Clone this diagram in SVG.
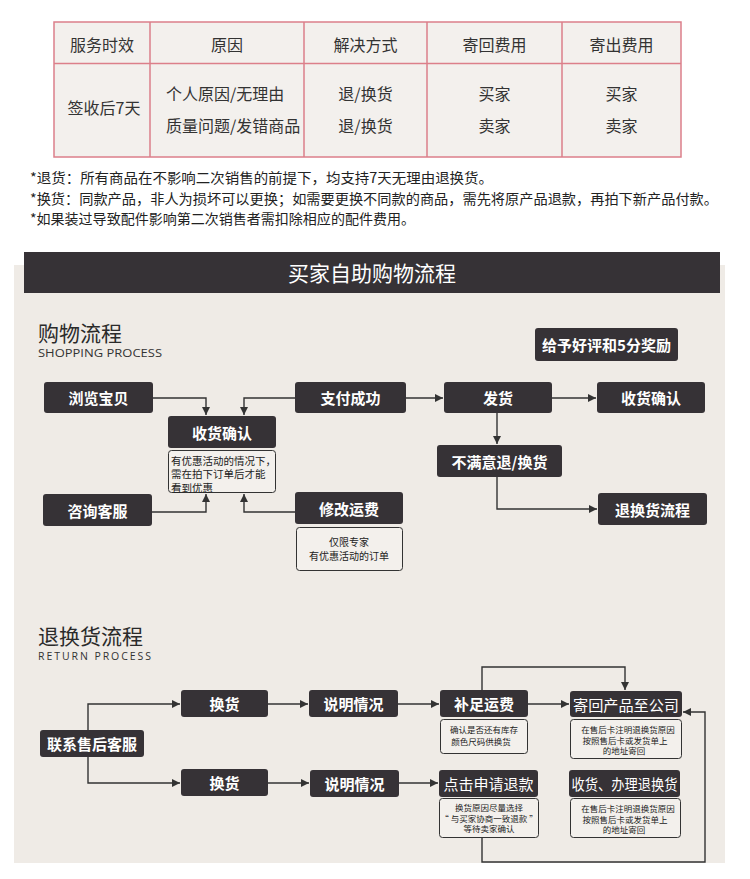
<svg xmlns="http://www.w3.org/2000/svg" width="750" height="879" viewBox="0 0 750 879">
<style>
text { font-family: "Noto Sans CJK SC", "Noto Sans", sans-serif; }
.tb { fill:#333; font-size:16px; text-anchor:middle; dominant-baseline:central; }
.tl { fill:#333; font-size:16px; dominant-baseline:central; }
.note { fill:#222; font-size:14px; dominant-baseline:central; }
.box { fill:#363236; }
.nt { fill:#fff; font-size:15px; font-weight:bold; text-anchor:middle; dominant-baseline:central; }
.nr { fill:#fff; font-size:15px; text-anchor:middle; dominant-baseline:central; }
.sub { fill:#f3f0ec; stroke:#333; stroke-width:1; }
.st { fill:#222; font-size:10.5px; dominant-baseline:central; }
.sm { fill:#222; font-size:10px; text-anchor:middle; dominant-baseline:central; }
.sc { fill:#222; font-size:8.5px; text-anchor:middle; dominant-baseline:central; }
.conn path { fill:none; stroke:#333; stroke-width:1.4; }
.h1 { fill:#2a2a2a; font-size:21px; dominant-baseline:central; }
.h2 { fill:#333; font-size:10.5px; font-family:"Open Sans","Noto Sans",sans-serif; dominant-baseline:central; }
</style>
<defs>
<marker id="arr" markerUnits="userSpaceOnUse" markerWidth="9" markerHeight="9" refX="8" refY="4" orient="auto">
<path d="M0,0 L8,4 L0,8 z" fill="#333"/>
</marker>
</defs>
<rect width="750" height="879" fill="#ffffff"/>

<g id="table">
<rect x="54" y="22" width="627" height="135" fill="#f3f0ed" stroke="#dc7f8a" stroke-width="1.5"/>
<path d="M54,63.5 H681 M150,22 V157 M304,22 V157 M427,22 V157 M562,22 V157" stroke="#dc7f8a" stroke-width="1.5" fill="none"/>
<text class="tb" x="102" y="44">服务时效</text>
<text class="tb" x="227" y="44">原因</text>
<text class="tb" x="365.5" y="44">解决方式</text>
<text class="tb" x="494.5" y="44">寄回费用</text>
<text class="tb" x="621.5" y="44">寄出费用</text>
<text class="tb" x="104" y="107">签收后7天</text>
<text class="tl" x="166" y="93">个人原因/无理由</text>
<text class="tl" x="166" y="125">质量问题/发错商品</text>
<text class="tb" x="365.5" y="93">退/换货</text>
<text class="tb" x="365.5" y="125">退/换货</text>
<text class="tb" x="494.5" y="93">买家</text>
<text class="tb" x="494.5" y="125">卖家</text>
<text class="tb" x="621.5" y="93">买家</text>
<text class="tb" x="621.5" y="125">卖家</text>
</g>

<g id="notes">
<text class="note" x="30" y="177" textLength="463" lengthAdjust="spacingAndGlyphs">*退货：所有商品在不影响二次销售的前提下，均支持7天无理由退换货。</text>
<text class="note" x="30" y="198" textLength="688" lengthAdjust="spacingAndGlyphs">*换货：同款产品，非人为损坏可以更换；如需要更换不同款的商品，需先将原产品退款，再拍下新产品付款。</text>
<text class="note" x="30" y="218" textLength="385" lengthAdjust="spacingAndGlyphs">*如果装过导致配件影响第二次销售者需扣除相应的配件费用。</text>
</g>

<rect x="14" y="265" width="711" height="598" fill="#efebe6"/>
<g id="banner">
<rect x="24" y="252" width="696" height="41" fill="#363236"/>
<text x="372" y="272" fill="#fff" font-size="21" text-anchor="middle" dominant-baseline="central">买家自助购物流程</text>
</g>

<g id="heading-shopping">
<text class="h1" x="38" y="332">购物流程</text>
<text class="h2" x="38" y="353" textLength="124" lengthAdjust="spacingAndGlyphs">SHOPPING PROCESS</text>
</g>
<g id="heading-return">
<text class="h1" x="38" y="635">退换货流程</text>
<text class="h2" x="38" y="656" textLength="113" lengthAdjust="spacing">RETURN PROCESS</text>
</g>

<g class="conn" id="connectors">
<path d="M153,398 H206 V415" marker-end="url(#arr)"/>
<path d="M295,398 H244 V415" marker-end="url(#arr)"/>
<path d="M152,512 H206 V494" marker-end="url(#arr)"/>
<path d="M295,512 H244 V494" marker-end="url(#arr)"/>
<path d="M406,398 H443" marker-end="url(#arr)"/>
<path d="M552,398 H596" marker-end="url(#arr)"/>
<path d="M497,413 V444" marker-end="url(#arr)"/>
<path d="M497,477 V509 H597" marker-end="url(#arr)"/>
<path d="M88,730 V704 H180" marker-end="url(#arr)"/>
<path d="M88,757 V783 H180" marker-end="url(#arr)"/>
<path d="M268,704 H308" marker-end="url(#arr)"/>
<path d="M268,783 H309" marker-end="url(#arr)"/>
<path d="M398,704 H439" marker-end="url(#arr)"/>
<path d="M528,704 H569" marker-end="url(#arr)"/>
<path d="M482,690 V667 H625 V690" marker-end="url(#arr)"/>
<path d="M399,783 H438" marker-end="url(#arr)"/>
<path d="M482,837 V862 H705 V712 H683" marker-end="url(#arr)"/>
</g>

<g id="reward"><rect class="box" x="535" y="328" width="143" height="33" rx="3"/><text class="nt" x="606.5" y="344.5">给予好评和5分奖励</text></g>
<g id="browse"><rect class="box" x="44" y="382" width="109" height="31" rx="3"/><text class="nt" x="98.5" y="397.5">浏览宝贝</text></g>
<g id="pay"><rect class="box" x="295" y="382" width="111" height="31" rx="3"/><text class="nt" x="350.5" y="397.5">支付成功</text></g>
<g id="ship"><rect class="box" x="444" y="382" width="108" height="31" rx="3"/><text class="nt" x="498" y="397.5">发货</text></g>
<g id="confirm2"><rect class="box" x="597" y="382" width="108" height="31" rx="3"/><text class="nt" x="651" y="397.5">收货确认</text></g>
<g id="confirm">
<rect class="box" x="168" y="416" width="108" height="32" rx="3"/><text class="nt" x="222" y="432">收货确认</text>
<rect class="sub" x="168.5" y="450.5" width="107" height="42" rx="3"/>
<text class="st" x="171" y="460">有优惠活动的情况下，</text>
<text class="st" x="171" y="473.5">需在拍下订单后才能</text>
<text class="st" x="171" y="487">看到优惠</text>
</g>
<g id="consult"><rect class="box" x="43" y="494" width="109" height="32" rx="3"/><text class="nt" x="97.5" y="510">咨询客服</text></g>
<g id="fee">
<rect class="box" x="295" y="492" width="108" height="32" rx="3"/><text class="nt" x="349" y="508">修改运费</text>
<rect class="sub" x="296.5" y="527.5" width="106" height="43" rx="3"/>
<text class="sm" x="349" y="541.5">仅限专家</text>
<text class="sm" x="349" y="555.5">有优惠活动的订单</text>
</g>
<g id="unsatisfied"><rect class="box" x="437" y="445" width="125" height="32" rx="3"/><text class="nt" x="499.5" y="461">不满意退/换货</text></g>
<g id="return-flow"><rect class="box" x="598" y="493" width="109" height="32" rx="3"/><text class="nt" x="652.5" y="509">退换货流程</text></g>

<g id="contact"><rect class="box" x="40" y="730" width="104" height="27" rx="3"/><text class="nt" x="92" y="743.5">联系售后客服</text></g>
<g id="exchange1"><rect class="box" x="181" y="690" width="87" height="27" rx="3"/><text class="nt" x="224.5" y="703.5">换货</text></g>
<g id="explain1"><rect class="box" x="309" y="690" width="89" height="27" rx="3"/><text class="nt" x="353.5" y="703.5">说明情况</text></g>
<g id="exchange2"><rect class="box" x="181" y="769" width="87" height="27" rx="3"/><text class="nt" x="224.5" y="782.5">换货</text></g>
<g id="explain2"><rect class="box" x="310" y="770" width="89" height="27" rx="3"/><text class="nt" x="354.5" y="783.5">说明情况</text></g>
<g id="topup">
<rect class="box" x="440" y="690" width="88" height="27" rx="3"/><text class="nt" x="484" y="703.5">补足运费</text>
<rect class="sub" x="440.5" y="719.5" width="87" height="34" rx="3"/>
<text class="sc" x="484" y="729">确认是否还有库存</text>
<text class="sc" x="481" y="740.5">颜色尺码供换货</text>
</g>
<g id="send-back">
<rect class="box" x="570" y="691" width="112" height="26" rx="3"/><text class="nr" x="626" y="704" textLength="106" lengthAdjust="spacingAndGlyphs">寄回产品至公司</text>
<rect class="sub" x="570.5" y="719.5" width="111" height="39" rx="3"/>
<text class="sc" x="628" y="729">在售后卡注明退换货原因</text>
<text class="sc" x="625" y="739.5">按照售后卡或发货单上</text>
<text class="sc" x="624" y="750">的地址寄回</text>
</g>
<g id="refund">
<rect class="box" x="439" y="770" width="99" height="27" rx="3"/><text class="nr" x="488.5" y="783.5">点击申请退款</text>
<rect class="sub" x="439.5" y="798.5" width="99" height="39" rx="3"/>
<text class="sc" x="489" y="807">换货原因尽量选择</text>
<text class="sc" x="489" y="817.5">“ 与买家协商一致退款 ”</text>
<text class="sc" x="489" y="828">等待卖家确认</text>
</g>
<g id="handle">
<rect class="box" x="569" y="770" width="111" height="27" rx="3"/><text class="nr" x="624.5" y="783.5" textLength="106" lengthAdjust="spacingAndGlyphs">收货、办理退换货</text>
<rect class="sub" x="570.5" y="798.5" width="110" height="39" rx="3"/>
<text class="sc" x="628" y="808">在售后卡注明退换货原因</text>
<text class="sc" x="625" y="818.5">按照售后卡或发货单上</text>
<text class="sc" x="624" y="829">的地址寄回</text>
</g>
</svg>
